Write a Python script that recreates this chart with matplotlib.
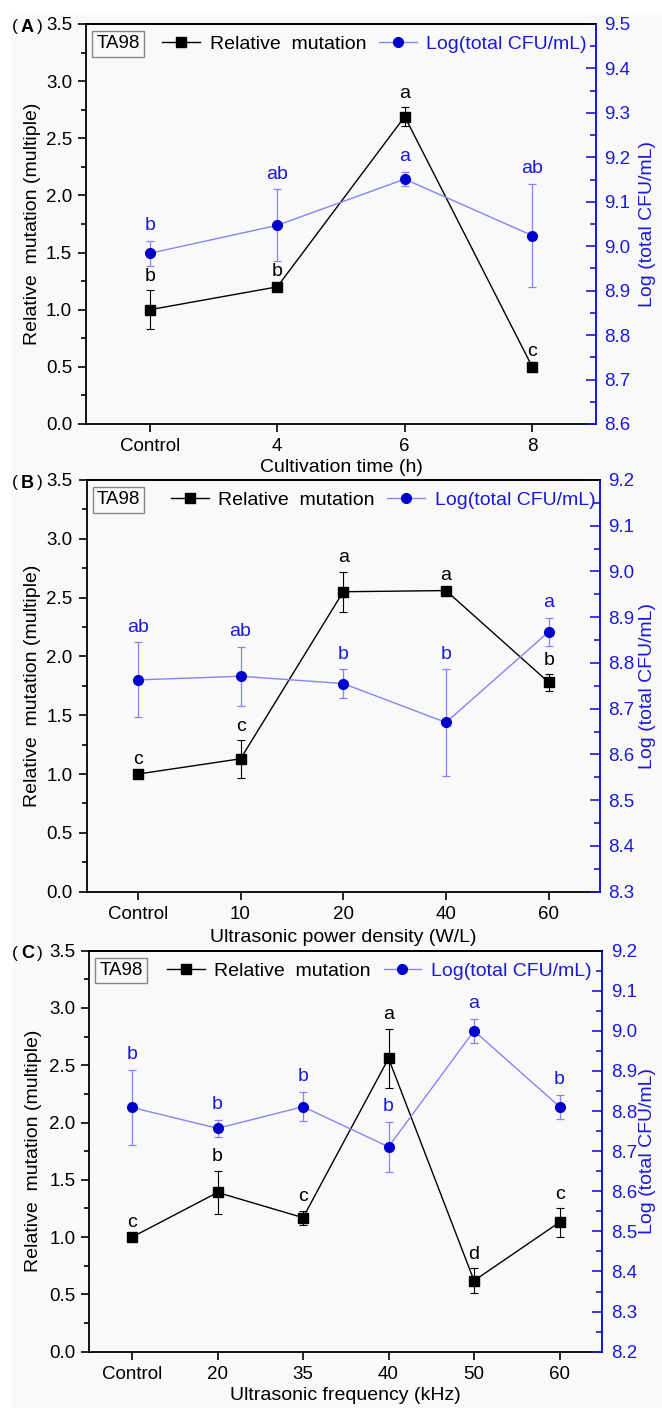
import matplotlib
matplotlib.use('Agg')
import matplotlib.pyplot as plt
from matplotlib.lines import Line2D
from matplotlib.patches import Rectangle
from matplotlib.ticker import MultipleLocator

plt.rcParams['font.family'] = ['Liberation Sans', 'Noto Sans CJK SC', 'DejaVu Sans']

# panel A - cultivation time
a_cats = ['Control', '4', '6', '8']
a_rel = [1.00, 1.20, 2.69, 0.50]
a_rel_err = [0.17, 0.01, 0.08, 0.01]
a_log = [8.984, 9.047, 9.151, 9.024]
a_log_err = [0.028, 0.081, 0.016, 0.116]
a_rel_sig = ['b', 'b', 'a', 'c']
a_log_sig = ['b', 'ab', 'a', 'ab']

# panel B - power density
b_cats = ['Control', '10', '20', '40', '60']
b_rel = [1.00, 1.13, 2.55, 2.56, 1.78]
b_rel_err = [0.01, 0.16, 0.17, 0.01, 0.07]
b_log = [8.763, 8.771, 8.755, 8.670, 8.868]
b_log_err = [0.082, 0.064, 0.031, 0.116, 0.031]
b_rel_sig = ['c', 'c', 'a', 'a', 'b']
b_log_sig = ['ab', 'ab', 'b', 'b', 'a']

# panel C - frequency
c_cats = ['Control', '20', '35', '40', '50', '60']
c_rel = [1.00, 1.39, 1.17, 2.56, 0.62, 1.13]
c_rel_err = [0.01, 0.19, 0.06, 0.26, 0.11, 0.125]
c_log = [8.809, 8.757, 8.811, 8.711, 9.000, 8.811]
c_log_err = [0.094, 0.021, 0.036, 0.063, 0.029, 0.030]
c_rel_sig = ['c', 'b', 'c', 'a', 'd', 'c']
c_log_sig = ['b', 'b', 'b', 'b', 'a', 'b']

W, H = 662, 1408
BLUE = '#0000cc'
LBLUE = '#8585f2'
TBLUE = '#1a1ad8'

fig = plt.figure(figsize=(W / 100, H / 100), dpi=100)
fig.patches.append(Rectangle((12 / W, 0), 1, 1 - 15 / H, transform=fig.transFigure,
                             facecolor='#f9f9f9', edgecolor='none', zorder=-10))


def panel(rect, tag, cats, rel, rel_err, log, log_err, rel_sig, log_sig,
          ylim2, xlabel, xlab_px, leg_x):
    l, t, r, b = rect
    ax = fig.add_axes([l / W, 1 - b / H, (r - l) / W, (b - t) / H])
    ax.set_facecolor('none')
    ax2 = ax.twinx()
    x = list(range(len(cats)))

    ax.errorbar(x, rel, yerr=rel_err, fmt='-s', color='black', ms=6.5, lw=1.0,
                elinewidth=0.8, capsize=3, capthick=0.8)
    ax2.errorbar(x, log, yerr=log_err, fmt='-o', color=LBLUE, mfc=BLUE, mec=BLUE,
                 ms=7, lw=1.0, ecolor=LBLUE, elinewidth=0.9, capsize=3, capthick=0.9)

    for i in x:
        ax.annotate(rel_sig[i], (i, rel[i] + rel_err[i]), xytext=(0, 10),
                    textcoords='offset points', ha='center', va='center',
                    fontsize=14, color='black')
        ax2.annotate(log_sig[i], (i, log[i] + log_err[i]), xytext=(0, 11),
                     textcoords='offset points', ha='center', va='center',
                     fontsize=14, color=TBLUE)

    ax.set_xlim(-0.5, len(cats) - 0.5)
    ax.set_ylim(0, 3.5)
    ax2.set_ylim(*ylim2)
    ax.set_xticks(x)
    ax.set_xticklabels(cats)
    ax.yaxis.set_major_locator(MultipleLocator(0.5))
    ax.yaxis.set_minor_locator(MultipleLocator(0.25))
    ax2.yaxis.set_major_locator(MultipleLocator(0.1))
    ax2.yaxis.set_minor_locator(MultipleLocator(0.05))
    ax.yaxis.set_major_formatter(matplotlib.ticker.FormatStrFormatter('%.1f'))
    ax2.yaxis.set_major_formatter(matplotlib.ticker.FormatStrFormatter('%.1f'))

    ax.tick_params(axis='both', which='major', direction='out', length=6, width=1.2,
                   labelsize=13.5, pad=4)
    ax.tick_params(axis='y', which='minor', direction='out', length=3.5, width=1.2)
    ax2.tick_params(axis='y', which='major', direction='in', length=7, width=1.2,
                    colors=TBLUE, labelsize=13.5, pad=6)
    ax2.tick_params(axis='y', which='minor', direction='in', length=4, width=1.2,
                    color=TBLUE)
    for s in ax.spines.values():
        s.set_linewidth(1.3)
    ax.spines['right'].set_visible(False)
    for s in ax2.spines.values():
        s.set_linewidth(1.3)
    ax2.spines['left'].set_visible(False)
    ax2.spines['bottom'].set_visible(False)
    ax2.spines['right'].set_color('#0000ee')

    ax.set_ylabel('Relative  mutation (multiple)', fontsize=14, va='center')
    ax.yaxis.set_label_coords((33 - l) / (r - l), 0.5)
    ax2.set_ylabel('Log (total CFU/mL)', fontsize=14, color=TBLUE, va='center')
    ax2.yaxis.set_label_coords((647 - l) / (r - l), 0.5)
    ax.set_xlabel(xlabel, fontsize=14, va='center')
    ax.xaxis.set_label_coords(0.5, (b - xlab_px) / (b - t))

    # strain box
    ax2.text(0.02, 1 - 20 / (b - t), 'TA98', transform=ax.transAxes, fontsize=13.5,
             ha='left', va='center',
             bbox=dict(boxstyle='square,pad=0.22', facecolor='none', edgecolor='#888888', lw=1))

    handles = [Line2D([], [], color='black', lw=1, marker='s', ms=6.5),
               Line2D([], [], color=LBLUE, lw=1, marker='o', mfc=BLUE, mec=BLUE, ms=7)]
    leg = ax2.legend(handles, ['Relative  mutation', 'Log(total CFU/mL)'], ncol=2,
                     frameon=False, fontsize=14, loc='center left',
                     bbox_to_anchor=(leg_x, 1 - 20 / (b - t)), borderpad=0,
                     borderaxespad=0, handlelength=1.95, handletextpad=0.5,
                     columnspacing=0.65)
    leg.get_texts()[1].set_color(TBLUE)

    # panel tag, e.g. (A)
    ty = 1 - (t + 3) / H
    fig.text(14.5 / W, ty, '(', ha='center', va='center', fontsize=12.5)
    fig.text(27.5 / W, ty, tag, ha='center', va='center', fontsize=13, weight='bold')
    fig.text(40 / W, ty, ')', ha='center', va='center', fontsize=12.5)


panel((86, 24, 596, 424), 'A', a_cats, a_rel, a_rel_err, a_log, a_log_err,
      a_rel_sig, a_log_sig, (8.6, 9.5), 'Cultivation time (h)', 467, 0.149)
panel((86.5, 480, 600, 891.7), 'B', b_cats, b_rel, b_rel_err, b_log, b_log_err,
      b_rel_sig, b_log_sig, (8.3, 9.2), 'Ultrasonic power density (W/L)', 938, 0.164)
panel((89.3, 950.7, 602.3, 1351.7), 'C', c_cats, c_rel, c_rel_err, c_log, c_log_err,
      c_rel_sig, c_log_sig, (8.2, 9.2), 'Ultrasonic frequency (kHz)', 1396, 0.151)

fig.savefig('out.png', dpi=100, facecolor='white')
